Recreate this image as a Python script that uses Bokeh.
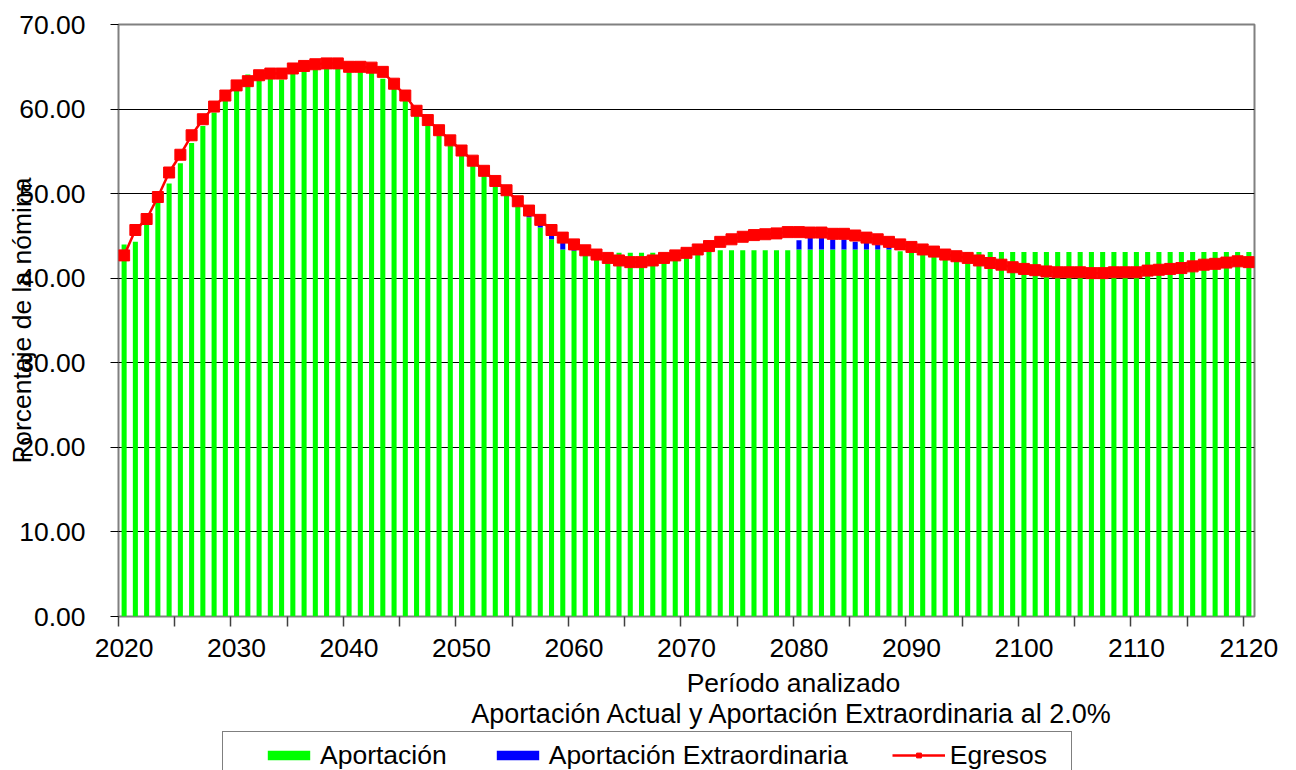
from bokeh.plotting import figure
from bokeh.models import (FixedTicker, NumeralTickFormatter, Legend, LegendItem, Label,
                          ColumnDataSource, Range1d)
from bokeh.layouts import column
from bokeh.embed import file_html
from bokeh.resources import INLINE

# ---------------- data ----------------
years = list(range(2020, 2121))

egresos = [
    42.7, 45.7, 47.0, 49.6, 52.5, 54.6, 56.9, 58.8, 60.3, 61.6,   # 2020-2029
    62.8, 63.3, 64.0, 64.2, 64.2, 64.8, 65.1, 65.3, 65.4, 65.4,   # 2030-2039
    65.0, 65.0, 64.9, 64.4, 63.0, 61.6, 59.8, 58.7, 57.5, 56.3,   # 2040-2049
    55.1, 53.9, 52.7, 51.5, 50.4, 49.1, 48.0, 46.9, 45.7, 44.8,   # 2050-2059
    44.0, 43.3, 42.8, 42.4, 42.1, 41.9, 41.9, 42.1, 42.4, 42.7,   # 2060-2069
    43.0, 43.4, 43.8, 44.3, 44.6, 44.9, 45.1, 45.2, 45.3, 45.45,  # 2070-2079
    45.45, 45.4, 45.4, 45.25, 45.25, 45.05, 44.8, 44.6, 44.3, 44.0,  # 2080-2089
    43.7, 43.4, 43.15, 42.8, 42.6, 42.4, 42.1, 41.8, 41.6, 41.3,  # 2090-2099
    41.1, 40.95, 40.8, 40.7, 40.7, 40.7, 40.6, 40.6, 40.7, 40.7,  # 2100-2109
    40.7, 40.9, 41.0, 41.1, 41.2, 41.4, 41.6, 41.7, 41.85, 42.0,  # 2110-2119
    41.9,                                                          # 2120
]

aportacion = [
    44.0, 44.3, 46.4, 49.0, 51.2, 53.6, 56.0, 58.0, 59.6, 61.0,   # 2020-2029
    62.2, 64.1, 63.4, 63.6, 63.5, 64.2, 64.6, 64.7, 64.8, 64.8,   # 2030-2039
    64.6, 64.6, 64.4, 63.6, 62.4, 61.1, 59.3, 58.3, 57.0, 55.8,   # 2040-2049
    54.6, 53.4, 52.2, 51.0, 49.8, 48.5, 47.2, 46.0, 44.6, 43.4,   # 2050-2059
    43.25, 43.0, 43.0, 43.0, 43.0, 43.0, 43.0, 43.0, 43.0, 43.0,  # 2060-2069
    43.1, 43.2, 43.3, 43.3, 43.3, 43.3, 43.3, 43.3, 43.3, 43.3,   # 2070-2079
    43.4, 43.4, 43.4, 43.4, 43.4, 43.4, 43.4, 43.4, 43.4, 43.2,   # 2080-2089
    43.1, 43.1, 43.1, 43.1, 43.1, 43.1, 43.1, 43.1, 43.1, 43.1,   # 2090-2099
    43.1, 43.1, 43.1, 43.1, 43.1, 43.1, 43.1, 43.1, 43.1, 43.1,   # 2100-2109
    43.1, 43.1, 43.1, 43.1, 43.1, 43.1, 43.1, 43.1, 43.1, 43.1,   # 2110-2119
    43.1,                                                          # 2120
]

extraordinaria = [
    0, 0, 0, 0, 0, 0, 0, 0, 0, 0,                 # 2020-2029
    0, 0, 0, 0, 0, 0, 0, 0, 0, 0,                 # 2030-2039
    0, 0, 0, 0, 0, 0, 0, 0, 0, 0,                 # 2040-2049
    0, 0, 0, 0, 0, 0, 0.3, 0.5, 0.5, 0.9,         # 2050-2059
    0.15, 0, 0, 0, 0, 0, 0, 0, 0, 0,              # 2060-2069
    0, 0, 0, 0, 0, 0, 0, 0, 0, 0,                 # 2070-2079
    1.1, 1.35, 1.35, 1.2, 1.2, 0.9, 0.8, 0.6, 0.3, 0,  # 2080-2089
    0, 0, 0, 0, 0, 0, 0, 0, 0, 0,                 # 2090-2099
    0, 0, 0, 0, 0, 0, 0, 0, 0, 0,                 # 2100-2109
    0, 0, 0, 0, 0, 0, 0, 0, 0, 0,                 # 2110-2119
    0,                                            # 2120
]

x_label_years = [2020, 2030, 2040, 2050, 2060, 2070, 2080, 2090, 2100, 2110, 2120]
y_ticks = [0, 10, 20, 30, 40, 50, 60, 70]

y_title = "Porcentaje de la nómina"
x_title = "Período analizado"
sub_title = "Aportación Actual y Aportación Extraordinaria al 2.0%"
legend_labels = ["Aportación", "Aportación Extraordinaria", "Egresos"]

# ---------------- styles ----------------
FONT = "Liberation Sans"
FS = "26.5px"
GREEN = "#00ff00"
BLUE = "#0000ff"
RED = "#ff0000"
W = 1296
H_MAIN = 666
H_LEG = 104
B_LEFT = 118
B_RIGHT = 42
FRAME_W = W - B_LEFT - B_RIGHT

src = ColumnDataSource(dict(
    year=years,
    aport=aportacion,
    extra_top=[a + e for a, e in zip(aportacion, extraordinaria)],
    egresos=egresos,
))

p = figure(width=W, height=H_MAIN,
           x_range=Range1d(2019.5, 2120.5), y_range=Range1d(0, 70),
           output_backend="svg", toolbar_location=None,
           min_border_left=B_LEFT, min_border_right=B_RIGHT,
           min_border_top=24, min_border_bottom=50)
p.background_fill_color = "white"
p.border_fill_color = "white"
p.outline_line_color = "#808080"
p.outline_line_width = 2

g = p.vbar(x="year", top="aport", bottom=0, width=0.45, source=src,
           fill_color=GREEN, line_color=None)
b = p.vbar(x="year", bottom="aport", top="extra_top", width=0.45, source=src,
           fill_color=BLUE, line_color=None)
ln = p.line(x="year", y="egresos", source=src, line_color=RED, line_width=2.5)
sc = p.scatter(x="year", y="egresos", source=src, marker="square", size=11,
               fill_color=RED, line_color=RED)

# grid
p.xgrid.visible = False
p.ygrid.ticker = FixedTicker(ticks=y_ticks)
p.ygrid.grid_line_color = "black"
p.ygrid.grid_line_width = 1

# y axis
ya = p.yaxis[0]
ya.ticker = FixedTicker(ticks=y_ticks)
ya.formatter = NumeralTickFormatter(format="0.00")
ya.axis_line_color = None
ya.major_tick_out = 8
ya.major_tick_in = 0
ya.minor_tick_out = 0
ya.minor_tick_in = 0
ya.major_tick_line_color = "black"
ya.major_label_standoff = 25
ya.major_label_text_font = FONT
ya.major_label_text_font_size = FS
ya.major_label_text_color = "black"
ya.axis_label = y_title
ya.axis_label_text_font = FONT
ya.axis_label_text_font_size = FS
ya.axis_label_text_font_style = "normal"
ya.axis_label_text_color = "black"
ya.axis_label_standoff = -21

# x axis: labels at category centres, ticks between categories
xa = p.xaxis[0]
xa.ticker = FixedTicker(ticks=x_label_years,
                        minor_ticks=[yv - 0.5 for yv in range(2020, 2121, 5)])
xa.formatter = NumeralTickFormatter(format="0")
xa.axis_line_color = None
xa.major_tick_out = 0
xa.major_tick_in = 0
xa.minor_tick_out = 10
xa.minor_tick_in = 0
xa.minor_tick_line_color = "#404040"
xa.minor_tick_line_width = 1.5
xa.major_label_standoff = 12
xa.major_label_text_font = FONT
xa.major_label_text_font_size = FS
xa.major_label_text_color = "black"

# ---------------- lower strip: titles and legend ----------------
# frame aligned with the main frame; x in pixels from the frame's left edge, y from top
p2 = figure(width=W, height=H_LEG, x_range=Range1d(0, FRAME_W), y_range=Range1d(H_LEG, 0),
            x_axis_type=None, y_axis_type=None, output_backend="svg",
            toolbar_location=None, min_border_left=B_LEFT, min_border_right=B_RIGHT,
            min_border_top=0, min_border_bottom=0)
p2.outline_line_color = None
p2.background_fill_color = "white"
p2.border_fill_color = "white"

p2.add_layout(Label(x=675, y=16, text=x_title, text_align="center", text_baseline="middle",
                    text_font=FONT, text_font_size=FS, text_color="black"))
p2.add_layout(Label(x=674, y=47, text=sub_title, text_align="center", text_baseline="middle",
                    text_font=FONT, text_font_size="27px", text_color="black"))

# legend proxies: same data and styling, not drawn themselves
g2 = p2.vbar(x="year", top="aport", bottom=0, width=0.45, source=src,
             fill_color=GREEN, line_color=None, visible=False)
b2 = p2.vbar(x="year", bottom="aport", top="extra_top", width=0.45, source=src,
             fill_color=BLUE, line_color=None, visible=False)
l2 = p2.line(x="year", y="egresos", source=src, line_color=RED, line_width=2.5,
             visible=False)
s2 = p2.scatter(x="year", y="egresos", source=src, marker="square", size=11,
                fill_color=RED, line_color=RED, visible=False)
d2 = p2.scatter(x="year", y="egresos", source=src, size=1, fill_alpha=0, line_alpha=0,
                visible=False)

LEG_TOP = 67
ROW_H = 32
PAD = 3
leg_h = 2 * PAD + ROW_H
vy = H_LEG - LEG_TOP - leg_h

legend_box = Legend(
    items=[LegendItem(label=" ", renderers=[d2])],
    orientation="horizontal", location=(104, vy), margin=0, padding=PAD,
    glyph_width=1, glyph_height=12, label_standoff=0, label_width=841,
    label_height=ROW_H, label_text_font=FONT, label_text_font_size=FS,
    border_line_color="black", border_line_width=1,
    background_fill_color="white", background_fill_alpha=1,
)
p2.add_layout(legend_box, "center")

legend = Legend(
    items=[LegendItem(label=legend_labels[0], renderers=[g2]),
           LegendItem(label=legend_labels[1], renderers=[b2]),
           LegendItem(label=legend_labels[2], renderers=[l2, s2])],
    orientation="horizontal", location=(144, vy), margin=0, padding=PAD,
    spacing=44, glyph_width=53, glyph_height=12, label_standoff=5,
    label_height=ROW_H, label_text_font=FONT, label_text_font_size=FS,
    label_text_color="black", border_line_color=None,
    background_fill_alpha=0,
)
p2.add_layout(legend, "center")

open("out.html", "w").write(file_html(column(p, p2), INLINE))
